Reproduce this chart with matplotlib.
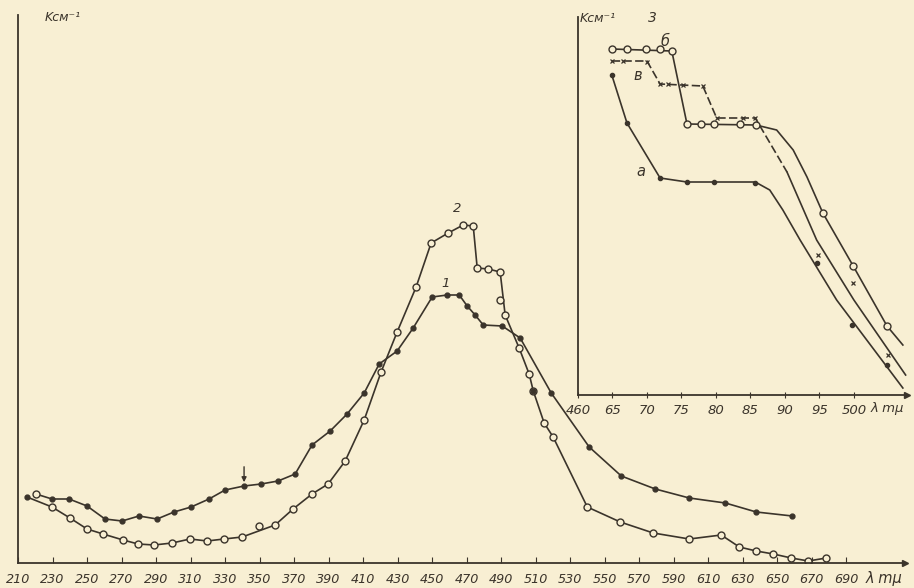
import matplotlib
matplotlib.use("Agg")
import matplotlib.pyplot as plt

# ---- main chart data (wavelength, m-mu ; absorption, arbitrary units) ----
c1_nm = [220.4, 229.7, 239.6, 250.0, 260.4, 270.3, 280.1, 290.6, 300.4, 310.3,
         320.7, 330.0, 341.0, 350.9, 360.7, 370.6, 380.4, 390.9, 400.7, 410.6,
         419.3, 429.7, 439.0, 450.0, 458.7, 465.7, 470.3, 474.9, 479.6, 490.6,
         501.0, 519.0, 541.0, 559.6, 579.3, 599.0, 619.9, 637.8, 658.7]
c1_k = [6.9, 6.4, 6.4, 5.7, 4.4, 4.2, 4.7, 4.4, 5.1, 5.6,
        6.4, 7.3, 7.7, 7.9, 8.2, 8.9, 11.8, 13.2, 14.9, 17.0,
        19.9, 21.2, 23.5, 26.6, 26.8, 26.8, 25.7, 24.8, 23.8, 23.7,
        22.5, 17.0, 11.6, 8.7, 7.4, 6.5, 6.0, 5.1, 4.7]

c2_nm = [215.2, 229.7, 240.1, 250.0, 259.3, 270.9, 279.6, 288.8, 299.3, 309.7,
         319.6, 329.4, 339.9, 359.0, 369.4, 380.4, 389.7, 399.6, 410.6, 420.4,
         429.7, 440.7, 449.4, 459.3, 468.0, 473.8, 476.1, 482.5, 489.4, 492.3,
         500.4, 506.2, 508.6, 514.9, 520.1, 539.9, 559.0, 578.1, 599.0, 617.5,
         628.0, 637.8, 647.7, 658.1, 668.0, 678.4]
c2_k = [6.6, 5.6, 4.5, 3.4, 2.9, 2.3, 1.9, 1.8, 2.0, 2.4,
        2.2, 2.4, 2.6, 3.8, 5.4, 6.9, 7.9, 10.2, 14.3, 19.1,
        23.1, 27.6, 32.0, 33.0, 33.8, 33.7, 29.5, 29.4, 29.1, 24.8,
        21.5, 18.9, 17.2, 14.0, 12.6, 5.6, 4.1, 3.0, 2.4, 2.8,
        1.6, 1.2, 0.9, 0.5, 0.2, 0.5]
c2_off_nm = [349.7, 489.4]      # open points lying off curve 2
c2_off_k = [3.7, 26.3]

main_ticks = list(range(210, 691, 20))

# ---- inset 3 data ----
a_nm = [464.9, 467.1, 471.9, 475.8, 479.7, 485.7, 487.8, 489.7, 492.2, 497.5, 507.1]
a_k = [32.0, 27.2, 21.7, 21.3, 21.3, 21.3, 20.5, 18.5, 15.5, 9.5, 0.7]
a_pts_nm = [464.9, 467.1, 471.9, 475.8, 479.7, 485.7, 494.6, 499.7, 504.8]
a_pts_k = [32.0, 27.2, 21.7, 21.3, 21.3, 21.2, 13.2, 7.0, 3.0]

b_nm = [464.9, 473.6, 475.8, 485.8, 488.8, 491.2, 493.2, 495.5, 499.9, 504.8, 507.1]
b_k = [34.6, 34.4, 27.1, 27.0, 26.5, 24.5, 21.8, 18.2, 12.9, 6.9, 5.0]
b_pts_nm = [464.9, 467.1, 469.9, 471.9, 473.6, 475.8, 477.8, 479.7, 483.5, 485.8,
            495.5, 499.9, 504.8]
b_pts_k = [34.6, 34.6, 34.6, 34.6, 34.4, 27.1, 27.1, 27.1, 27.1, 27.0,
           18.2, 12.9, 6.9]

v_dash_nm = [464.9, 470.0, 471.9, 478.1, 480.1, 485.7, 490.3]
v_dash_k = [33.4, 33.4, 31.1, 30.9, 27.7, 27.7, 22.3]
v_nm = [490.3, 494.6, 500.0, 507.5]
v_k = [22.3, 15.5, 9.5, 2.0]
v_pts_nm = [464.9, 466.5, 470.0, 471.9, 473.0, 475.2, 478.1, 480.1, 483.9, 485.7,
            494.8, 499.9, 504.9]
v_pts_k = [33.4, 33.4, 33.3, 31.1, 31.1, 31.0, 30.9, 27.7, 27.7, 27.7,
           14.0, 11.2, 4.0]

inset_ticks = [460, 465, 470, 475, 480, 485, 490, 495, 500]
inset_labels = ["460", "65", "70", "75", "80", "85", "90", "95", "500"]

paper = "#f8efd3"
ink = "#3b342b"

fig = plt.figure(figsize=(9.14, 5.88), dpi=100, facecolor=paper)

W, H = 914.0, 588.0
ax = fig.add_axes([18 / W, 25 / H, (905 - 18) / W, (563 - 15) / H])
ax.set_facecolor("none")
ax.set_xlim(210, 724)
ax.set_ylim(0, 54.8)


def style_axes(a, fs):
    for s in ["top", "right"]:
        a.spines[s].set_visible(False)
    for s in ["left", "bottom"]:
        a.spines[s].set_color(ink)
        a.spines[s].set_linewidth(1.3)
    a.set_yticks([])
    a.tick_params(axis="x", direction="in", length=4, color=ink, labelcolor=ink,
                  labelsize=fs, pad=7)
    for lab in a.get_xticklabels():
        lab.set_fontstyle("italic")
    a.plot(1, 0, ">", color=ink, ms=5, transform=a.get_yaxis_transform(), clip_on=False)
    a.plot(0, 1, "^", color=ink, ms=5, transform=a.get_xaxis_transform(), clip_on=False)


ax.set_xticks(main_ticks)
ax.set_xticklabels([str(t) for t in main_ticks])
style_axes(ax, 9.2)

ax.plot(c1_nm, c1_k, color=ink, lw=1.2)
ax.plot(c1_nm[1:], c1_k[1:], "o", color=ink, ms=3.5, ls="none")
ax.plot(c1_nm[:1], c1_k[:1], "o", mfc=paper, mec=ink, ms=5, ls="none")
ax.plot(c2_nm, c2_k, color=ink, lw=1.2)
ax.plot(c2_nm[1:], c2_k[1:], "o", mfc=paper, mec=ink, ms=5, mew=1.0, ls="none")
ax.plot([c2_nm[0], c2_nm[32]], [c2_k[0], c2_k[32]], "o", color=ink, ms=3.5, ls="none")
ax.plot(c2_off_nm, c2_off_k, "o", mfc=paper, mec=ink, ms=5, mew=1.0, ls="none")

ax.annotate("", xy=(341.0, 7.8), xytext=(341.0, 9.9),
            arrowprops=dict(arrowstyle="-|>", color=ink, lw=1.0, mutation_scale=7))
ax.text(457.5, 27.3, "1", color=ink, fontsize=9.5, fontstyle="italic", ha="center", va="bottom")
ax.text(464.6, 34.8, "2", color=ink, fontsize=9.5, fontstyle="italic", ha="center", va="bottom")
ax.text(236, 54.5, "Kсм⁻¹", color=ink, fontsize=9, fontstyle="italic", ha="center", va="center")
ax.text(701, -1.55, "λ mμ", color=ink, fontsize=10.5, fontstyle="italic",
        ha="left", va="center", clip_on=False)

# ---- inset 3 ----
ins = fig.add_axes([578 / W, (588 - 395) / H, (907 - 578) / W, (395 - 17) / H])
ins.set_facecolor("none")
ins.set_xlim(460, 507.7)
ins.set_ylim(0, 37.8)
ins.set_xticks(inset_ticks)
ins.set_xticklabels(inset_labels)
style_axes(ins, 9.5)
ins.tick_params(axis="x", direction="inout", length=5, pad=4)

ins.plot(a_nm, a_k, color=ink, lw=1.2)
ins.plot(a_pts_nm, a_pts_k, "o", color=ink, ms=3, ls="none")
ins.plot(b_nm, b_k, color=ink, lw=1.2)
ins.plot(b_pts_nm, b_pts_k, "o", mfc=paper, mec=ink, ms=5, mew=1.0, ls="none")
ins.plot(v_dash_nm, v_dash_k, color=ink, lw=1.2, ls=(0, (5, 2)))
ins.plot(v_nm, v_k, color=ink, lw=1.2)
ins.plot(v_pts_nm, v_pts_k, "x", color=ink, ms=3, mew=0.9, ls="none")

ins.text(462.9, 37.7, "Kсм⁻¹", color=ink, fontsize=9, fontstyle="italic", ha="center", va="center")
ins.text(470.8, 37.7, "3", color=ink, fontsize=10, fontstyle="italic", ha="center", va="center")
ins.text(472.6, 35.3, "б", color=ink, fontsize=10.5, fontstyle="italic", ha="center", va="center")
ins.text(468.6, 32.0, "в", color=ink, fontsize=10.5, fontstyle="italic", ha="center", va="center")
ins.text(469.1, 22.3, "a", color=ink, fontsize=10.5, fontstyle="italic", ha="center", va="center")
ins.text(502.4, -1.35, "λ mμ", color=ink, fontsize=9.5, fontstyle="italic",
         ha="left", va="center", clip_on=False)

fig.savefig("out.png", dpi=100, facecolor=paper)
